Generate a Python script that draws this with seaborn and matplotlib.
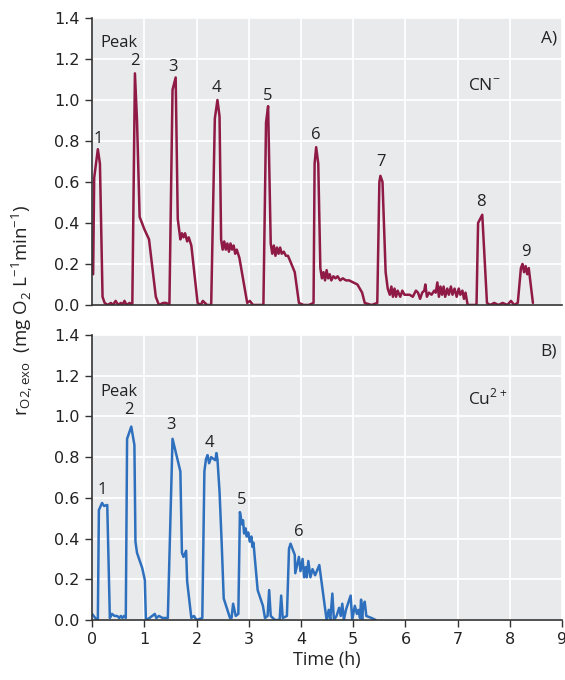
import pandas as pd
import seaborn as sns
import matplotlib.pyplot as plt

# Dados
cn_time = [0.02, 0.04, 0.11, 0.15, 0.20, 0.24, 0.30, 0.36, 0.40, 0.45, 0.50, 0.55, 0.58, 0.62, 0.66,
           0.72, 0.77, 0.82, 0.86, 0.91, 1.00, 1.09, 1.22, 1.28, 1.36, 1.42, 1.48, 1.54, 1.60, 1.64,
           1.69, 1.72, 1.75, 1.78, 1.82, 1.85, 1.90, 2.02, 2.08, 2.12, 2.20, 2.28, 2.35, 2.40, 2.44,
           2.47, 2.50, 2.53, 2.56, 2.59, 2.62, 2.65, 2.68, 2.71, 2.74, 2.77, 2.82, 2.97, 3.02, 3.08,
           3.20, 3.28, 3.33, 3.37, 3.42, 3.45, 3.48, 3.51, 3.54, 3.57, 3.60, 3.63, 3.67, 3.71, 3.75,
           3.80, 3.88, 3.96, 4.05, 4.15, 4.24, 4.26, 4.29, 4.33, 4.37, 4.40, 4.43, 4.46, 4.49, 4.52,
           4.55, 4.58, 4.62, 4.66, 4.70, 4.75, 4.80, 4.86, 4.92, 5.00, 5.08, 5.17, 5.22, 5.35, 5.46,
           5.50, 5.52, 5.56, 5.62, 5.66, 5.70, 5.73, 5.76, 5.79, 5.82, 5.85, 5.90, 5.94, 5.98, 6.03,
           6.08, 6.14, 6.20, 6.24, 6.28, 6.32, 6.36, 6.38, 6.41, 6.45, 6.50, 6.55, 6.58, 6.61, 6.64,
           6.67, 6.70, 6.73, 6.76, 6.80, 6.83, 6.87, 6.90, 6.94, 6.98, 7.02, 7.05, 7.09, 7.12, 7.15,
           7.19, 7.28, 7.36, 7.39, 7.47, 7.56, 7.62, 7.70, 7.78, 7.86, 7.95, 8.02, 8.08, 8.15, 8.21,
           8.24, 8.27, 8.30, 8.33, 8.36, 8.44]
cn_rate = [0.15, 0.62, 0.76, 0.69, 0.04, 0.01, 0.00, 0.01, 0.00, 0.02, 0.00, 0.01, 0.00, 0.02, 0.00,
           0.01, 0.00, 1.13, 0.90, 0.43, 0.37, 0.32, 0.04, 0.00, 0.01, 0.01, 0.00, 1.05, 1.11, 0.42,
           0.32, 0.35, 0.33, 0.35, 0.31, 0.33, 0.29, 0.01, 0.00, 0.02, 0.00, 0.00, 0.91, 1.00, 0.92,
           0.32, 0.27, 0.31, 0.27, 0.30, 0.26, 0.30, 0.27, 0.29, 0.25, 0.27, 0.23, 0.01, 0.02, 0.00,
           0.00, 0.00, 0.89, 0.97, 0.30, 0.25, 0.29, 0.24, 0.28, 0.25, 0.28, 0.25, 0.26, 0.24, 0.24,
           0.21, 0.16, 0.01, 0.00, 0.00, 0.01, 0.69, 0.77, 0.69, 0.18, 0.13, 0.16, 0.12, 0.17, 0.13,
           0.15, 0.12, 0.14, 0.13, 0.14, 0.12, 0.13, 0.12, 0.12, 0.11, 0.10, 0.06, 0.01, 0.00, 0.01,
           0.60, 0.63, 0.60, 0.16, 0.08, 0.05, 0.09, 0.04, 0.08, 0.04, 0.07, 0.04, 0.07, 0.05, 0.05,
           0.05, 0.04, 0.07, 0.06, 0.03, 0.06, 0.07, 0.10, 0.04, 0.06, 0.05, 0.07, 0.06, 0.11, 0.04,
           0.09, 0.05, 0.09, 0.04, 0.08, 0.05, 0.09, 0.05, 0.08, 0.04, 0.08, 0.05, 0.07, 0.03, 0.06,
           0.00, 0.00, 0.00, 0.40, 0.44, 0.01, 0.00, 0.01, 0.00, 0.01, 0.00, 0.02, 0.00, 0.01, 0.18,
           0.20, 0.16, 0.19, 0.15, 0.18, 0.01]

cu_time = [0.00, 0.03, 0.06, 0.11, 0.13, 0.19, 0.23, 0.29, 0.34, 0.38, 0.43, 0.48, 0.52, 0.55, 0.58,
           0.61, 0.645, 0.67, 0.75, 0.81, 0.83, 0.86, 0.96, 1.01, 1.03, 1.10, 1.20, 1.23, 1.28, 1.35,
           1.45, 1.54, 1.69, 1.72, 1.75, 1.80, 1.82, 1.90, 1.95, 2.00, 2.11, 2.15, 2.18, 2.21, 2.24,
           2.28, 2.33, 2.36, 2.38, 2.40, 2.44, 2.48, 2.52, 2.64, 2.67, 2.70, 2.75, 2.80, 2.83, 2.87,
           2.89, 2.91, 2.94, 2.96, 2.99, 3.02, 3.05, 3.07, 3.09, 3.11, 3.17, 3.27, 3.31, 3.36, 3.39,
           3.42, 3.50, 3.59, 3.62, 3.65, 3.73, 3.77, 3.80, 3.88, 3.89, 3.96, 3.99, 4.03, 4.06, 4.09,
           4.11, 4.14, 4.18, 4.22, 4.27, 4.35, 4.49, 4.53, 4.56, 4.60, 4.63, 4.68, 4.73, 4.76, 4.79,
           4.82, 4.86, 4.95, 4.98, 5.03, 5.07, 5.10, 5.13, 5.15, 5.17, 5.19, 5.22, 5.25, 5.35, 5.43]
cu_rate = [0.03, 0.02, 0.01, 0.00, 0.54, 0.575, 0.56, 0.565, 0.01, 0.03, 0.02, 0.02, 0.01, 0.02, 0.01,
           0.02, 0.01, 0.89, 0.95, 0.86, 0.385, 0.33, 0.255, 0.196, 0.00, 0.01, 0.03, 0.01, 0.02, 0.01,
           0.01, 0.89, 0.73, 0.33, 0.31, 0.34, 0.19, 0.01, 0.02, 0.00, 0.01, 0.73, 0.79, 0.81, 0.77,
           0.80, 0.79, 0.785, 0.82, 0.79, 0.63, 0.385, 0.106, 0.01, 0.01, 0.08, 0.02, 0.03, 0.53, 0.47,
           0.49, 0.425, 0.45, 0.41, 0.43, 0.385, 0.41, 0.36, 0.38, 0.32, 0.147, 0.07, 0.01, 0.02, 0.147,
           0.02, 0.00, 0.00, 0.12, 0.01, 0.02, 0.35, 0.375, 0.32, 0.23, 0.31, 0.24, 0.30, 0.21, 0.26,
           0.21, 0.29, 0.21, 0.25, 0.22, 0.27, 0.00, 0.05, 0.00, 0.13, 0.00, 0.02, 0.06, 0.02, 0.08,
           0.00, 0.05, 0.12, 0.00, 0.07, 0.03, 0.05, 0.01, 0.10, 0.00, 0.07, 0.09, 0.02, 0.01, 0.00]

cn_peaks = ['1', '2', '3', '4', '5', '6', '7', '8', '9']
cn_peak_x = [0.12, 0.82, 1.55, 2.38, 3.36, 4.29, 5.53, 7.44, 8.31]
cn_peak_y = [0.81, 1.19, 1.16, 1.06, 1.02, 0.83, 0.70, 0.50, 0.26]
cu_peaks = ['1', '2', '3', '4', '5', '6']
cu_peak_x = [0.19, 0.71, 1.51, 2.24, 2.86, 3.96]
cu_peak_y = [0.64, 1.03, 0.96, 0.87, 0.59, 0.43]

df_cn = pd.DataFrame({'Time': cn_time, 'Rate': cn_rate})
df_cu = pd.DataFrame({'Time': cu_time, 'Rate': cu_rate})

sns.set_style("darkgrid", {"axes.facecolor": "#E9EAEC", "grid.color": "white"})
plt.rcParams['font.family'] = ['DejaVu Sans']

fig = plt.figure(figsize=(5.65, 6.8), dpi=100)
ax1 = fig.add_axes([0.163, 0.5515, 0.832, 0.422])
ax2 = fig.add_axes([0.163, 0.0882, 0.832, 0.4192])

sns.lineplot(data=df_cn, x='Time', y='Rate', ax=ax1, color='#8E1A45', lw=1.8,
             sort=False, estimator=None)
sns.lineplot(data=df_cu, x='Time', y='Rate', ax=ax2, color='#2E70BD', lw=1.8,
             sort=False, estimator=None)

lab_font = dict(family='Open Sans', fontsize=12, color='#222222')
big_font = dict(family='Open Sans', fontsize=12.5, color='#222222')
for ax in (ax1, ax2):
    ax.set_xlim(0, 9)
    ax.set_ylim(0, 1.4)
    ax.set_xticks(range(10))
    ax.set_yticks([0, 0.2, 0.4, 0.6, 0.8, 1.0, 1.2, 1.4])
    ax.set_yticklabels(['0.0', '0.2', '0.4', '0.6', '0.8', '1.0', '1.2', '1.4'])
    ax.grid(True, color='white', lw=1.3)
    ax.set_xlabel('')
    ax.set_ylabel('')
    for s in ('top', 'right'):
        ax.spines[s].set_visible(False)
    for s in ('left', 'bottom'):
        ax.spines[s].set_visible(True)
        ax.spines[s].set_color('#333333')
        ax.spines[s].set_linewidth(1.2)
    ax.tick_params(axis='y', left=True, direction='out', length=5, width=1,
                   color='#333333', labelsize=11.5, labelcolor='#222222', pad=4)

ax1.tick_params(axis='x', bottom=False, labelbottom=False)
ax2.tick_params(axis='x', bottom=True, direction='out', length=5, width=1,
                color='#333333', labelsize=11.5, labelcolor='#222222')
ax2.set_xlabel('Time (h)', fontfamily='Open Sans', fontsize=13, color='#222222', labelpad=3)

# Anotações
ax1.text(0.15, 1.28, 'Peak', ha='left', va='center', **lab_font)
for lbl, x, y in zip(cn_peaks, cn_peak_x, cn_peak_y):
    ax1.text(x, y, lbl, ha='center', va='center', **lab_font)
ax1.text(7.2, 1.07, 'CN$^{\\mathregular{-}}$', ha='left', va='center', **big_font)
ax1.text(8.9, 1.30, 'A)', ha='right', va='center', **big_font)

ax2.text(0.15, 1.12, 'Peak', ha='left', va='center', **lab_font)
for lbl, x, y in zip(cu_peaks, cu_peak_x, cu_peak_y):
    ax2.text(x, y, lbl, ha='center', va='center', **lab_font)
ax2.text(7.2, 1.09, 'Cu$^{\\mathregular{2+}}$', ha='left', va='center', **big_font)
ax2.text(8.9, 1.32, 'B)', ha='right', va='center', **big_font)

fig.text(0.04, 0.544,
         r'$\mathregular{r_{O2,exo}}$  (mg O$_\mathregular{2}$ L$^\mathregular{-1}$min$^\mathregular{-1}$)',
         rotation=90, ha='center', va='center', fontfamily='Open Sans', fontsize=13.5,
         color='#222222')

plt.savefig('out.png', dpi=100)
